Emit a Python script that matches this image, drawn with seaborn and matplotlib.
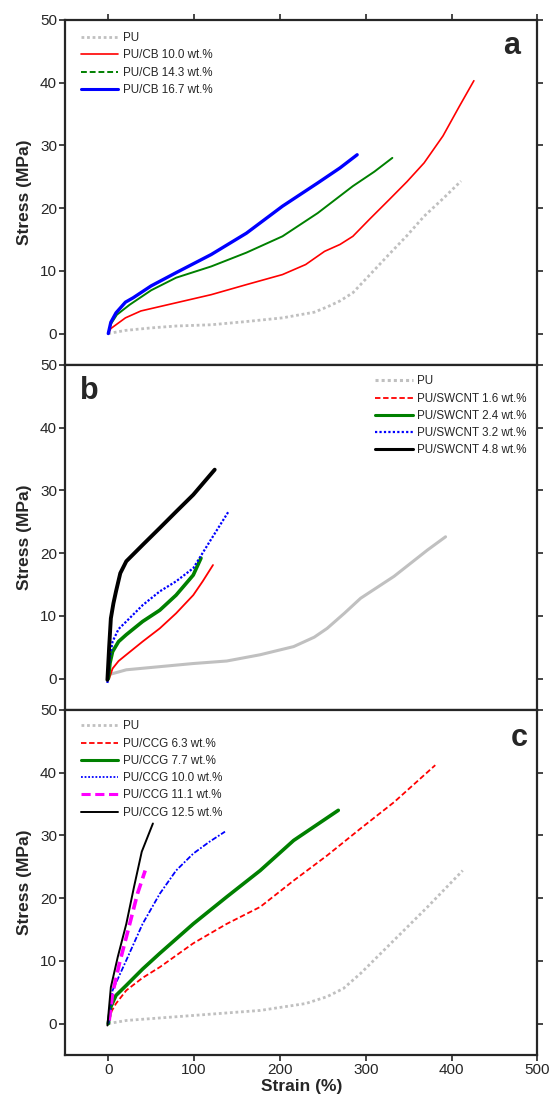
import numpy as np
import pandas as pd
import matplotlib
matplotlib.use("Agg")
import matplotlib.pyplot as plt
from matplotlib.lines import Line2D
import seaborn as sns

# ---- panel a : PU / carbon black ----
a_pu_x = [0, 20, 50, 79, 120, 160, 203, 240, 256, 270, 285, 305, 327, 348, 368, 390, 411]
a_pu_y = [0, 0.5, 0.9, 1.2, 1.4, 1.9, 2.5, 3.4, 4.3, 5.2, 6.5, 9.4, 12.6, 15.6, 18.7, 21.5, 24.3]
a_cb10_x = [0, 3, 9, 20, 38, 79, 120, 161, 203, 230, 252, 270, 285, 305, 327, 348, 368, 390, 409, 426]
a_cb10_y = [0, 0.8, 1.4, 2.5, 3.6, 4.9, 6.2, 7.8, 9.4, 11.0, 13.1, 14.2, 15.5, 18.3, 21.3, 24.2, 27.2, 31.5, 36.2, 40.3]
a_cb14_x = [0, 3, 10, 25, 50, 79, 120, 161, 203, 244, 285, 310, 331]
a_cb14_y = [0, 1.5, 3.0, 4.6, 6.9, 8.9, 10.7, 12.9, 15.5, 19.2, 23.5, 25.8, 28.0]
a_cb16_x = [0, 3, 9, 20, 29, 50, 79, 120, 161, 203, 244, 270, 290]
a_cb16_y = [0, 1.8, 3.3, 5.0, 5.7, 7.6, 9.7, 12.6, 16.0, 20.3, 24.0, 26.4, 28.5]

# ---- panel b : PU / SWCNT ----
b_pu_x = [0, 21, 60, 99, 138, 177, 216, 240, 255, 275, 294, 333, 372, 393]
b_pu_y = [0.6, 1.4, 1.9, 2.4, 2.8, 3.8, 5.1, 6.6, 8.0, 10.4, 12.8, 16.3, 20.5, 22.6]
b_s16_x = [1, 5, 12, 21, 40, 60, 79, 99, 110, 122]
b_s16_y = [0, 1.6, 2.8, 3.8, 5.9, 8.0, 10.4, 13.3, 15.5, 18.1]
b_s24_x = [0, 2, 5, 12, 21, 40, 60, 79, 99, 108]
b_s24_y = [0, 2.5, 4.3, 5.9, 7.0, 9.1, 10.9, 13.3, 16.5, 19.2]
b_s32_x = [-1, 2, 5, 12, 21, 40, 60, 79, 99, 118, 140]
b_s32_y = [-0.7, 3.5, 5.9, 7.9, 9.1, 11.7, 13.9, 15.5, 17.6, 21.8, 26.6]
b_s48_x = [-1, 1, 3, 6, 9, 14, 21, 40, 60, 79, 99, 124]
b_s48_y = [-0.2, 5.0, 9.6, 12.0, 13.9, 16.8, 18.7, 21.3, 24.0, 26.6, 29.3, 33.3]

# ---- panel c : PU / CCG ----
c_pu_x = [0, 21, 99, 177, 230, 255, 274, 294, 333, 372, 413]
c_pu_y = [0, 0.5, 1.3, 2.1, 3.2, 4.3, 5.6, 8.0, 13.3, 18.6, 24.4]
c_g63_x = [1, 4, 9, 21, 40, 60, 99, 138, 177, 216, 255, 294, 333, 381]
c_g63_y = [0.5, 2.0, 3.2, 5.3, 7.3, 9.0, 12.8, 15.9, 18.6, 22.8, 26.8, 31.1, 35.3, 41.2]
c_g77_x = [0, 3, 9, 21, 40, 60, 99, 138, 177, 216, 268]
c_g77_y = [0, 2.7, 4.5, 6.1, 8.7, 11.2, 15.9, 20.2, 24.4, 29.2, 34.0]
c_g100_x = [0, 5, 21, 40, 60, 79, 99, 118, 136]
c_g100_y = [0, 5.3, 10.1, 15.9, 20.7, 24.4, 27.1, 29.0, 30.6]
c_g111_x = [1, 5, 13, 25, 34, 43]
c_g111_y = [0.5, 4.8, 9.6, 15.9, 20.7, 24.4]
c_g125_x = [-1, 3, 11, 21, 30, 39, 52]
c_g125_y = [-0.3, 5.8, 10.6, 15.9, 21.8, 27.4, 31.9]

GRAY = "#c0c0c0"
dot = (0, (1, 1))

# (x, y, label, color, lw, data style, legend style)
panel_a = [
    (a_pu_x, a_pu_y, "PU", GRAY, 2.0, dot, dot),
    (a_cb10_x, a_cb10_y, "PU/CB 10.0 wt.%", "red", 1.2, "-", "-"),
    (a_cb14_x, a_cb14_y, "PU/CB 14.3 wt.%", "green", 1.4, "-", (0, (3, 1.5))),
    (a_cb16_x, a_cb16_y, "PU/CB 16.7 wt.%", "blue", 2.4, "-", "-"),
]
panel_b = [
    (b_pu_x, b_pu_y, "PU", GRAY, 2.2, "-", dot),
    (b_s16_x, b_s16_y, "PU/SWCNT 1.6 wt.%", "red", 1.3, "-", (0, (3, 1.5))),
    (b_s24_x, b_s24_y, "PU/SWCNT 2.4 wt.%", "green", 2.6, "-", "-"),
    (b_s32_x, b_s32_y, "PU/SWCNT 3.2 wt.%", "blue", 1.6, (0, (1, 0.8)), (0, (1, 1))),
    (b_s48_x, b_s48_y, "PU/SWCNT 4.8 wt.%", "black", 2.8, "-", "-"),
]
panel_c = [
    (c_pu_x, c_pu_y, "PU", GRAY, 2.0, dot, dot),
    (c_g63_x, c_g63_y, "PU/CCG 6.3 wt.%", "red", 1.3, (0, (3, 1.5)), (0, (3, 1.5))),
    (c_g77_x, c_g77_y, "PU/CCG 7.7 wt.%", "green", 2.6, "-", "-"),
    (c_g100_x, c_g100_y, "PU/CCG 10.0 wt.%", "blue", 1.3, (0, (3, 1, 1, 1)), (0, (1, 1))),
    (c_g111_x, c_g111_y, "PU/CCG 11.1 wt.%", "magenta", 2.6, (0, (3, 1.5)), (0, (3, 1.5))),
    (c_g125_x, c_g125_y, "PU/CCG 12.5 wt.%", "black", 1.4, "-", "-"),
]

sns.set_style("ticks")
plt.rcParams['font.family'] = ['Liberation Sans', 'DejaVu Sans']

fig, axes = plt.subplots(3, 1, figsize=(5.54, 11.04), dpi=100, sharex=True)
fig.subplots_adjust(left=0.118, right=0.970, top=0.982, bottom=0.0444, hspace=0)

letters = ["a", "b", "c"]
letter_pos = [(0.945, 0.925), (0.05, 0.925), (0.962, 0.92)]
legend_loc = ["upper left", "upper right", "upper left"]
legend_anchor = [(0.01, 0.995), (1.0, 1.0), (0.01, 1.0)]

for i, (ax, series) in enumerate(zip(axes, [panel_a, panel_b, panel_c])):
    handles = []
    for x, y, lab, col, lw, ls, lls in series:
        df = pd.DataFrame({"strain": x, "stress": y})
        sns.lineplot(data=df, x="strain", y="stress", ax=ax, color=col, lw=lw,
                     linestyle=ls, sort=False, estimator=None)
        handles.append(Line2D([], [], color=col, lw=min(lw, 2.2), linestyle=lls, label=lab))
    ax.legend(handles=handles, loc=legend_loc[i], bbox_to_anchor=legend_anchor[i],
              frameon=False, fontsize=8.4, handlelength=3.2,
              handletextpad=0.4, labelspacing=0.45)
    ax.text(letter_pos[i][0], letter_pos[i][1], letters[i], transform=ax.transAxes,
            fontsize=22, fontweight="bold", ha="center", va="center")
    ax.set_xlim(-50, 500)
    ax.set_ylim(-5, 50)
    ax.set_yticks([0, 10, 20, 30, 40, 50])
    ax.set_xticks([0, 100, 200, 300, 400, 500])
    ax.set_ylabel("Stress (MPa)", fontsize=12.5, fontweight="bold", labelpad=6)
    ax.set_xlabel("")
    for s in ax.spines.values():
        s.set_linewidth(1.6)
        s.set_visible(True)
    ax.tick_params(direction="out", length=4, width=1.2, labelsize=11,
                   right=True, top=(i == 0), bottom=True, pad=2)

axes[2].set_xlabel("Strain (%)", fontsize=12.5, fontweight="bold", labelpad=1)

fig.savefig("out.png", dpi=100)
